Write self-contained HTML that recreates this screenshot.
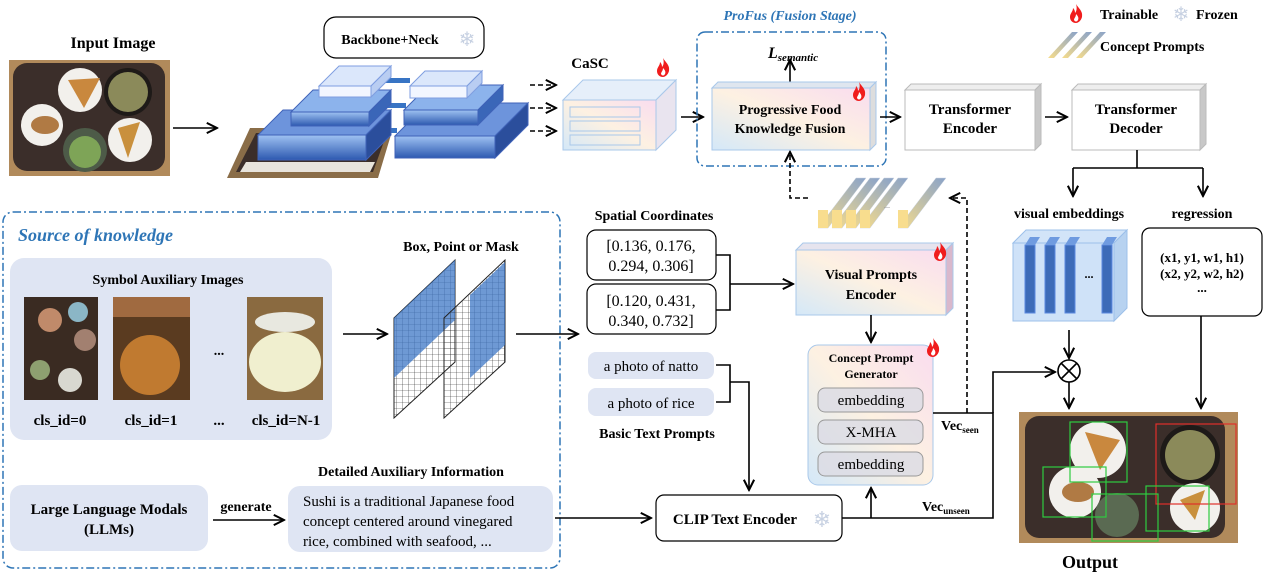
<!DOCTYPE html>
<html><head><meta charset="utf-8"><style>
html,body{margin:0;padding:0;background:#fff}
svg{display:block;font-family:"Liberation Serif",serif}
.b{font-weight:bold}
</style></head><body>
<svg width="1265" height="575" viewBox="0 0 1265 575" xmlns="http://www.w3.org/2000/svg">
<defs>
<marker id="ar" viewBox="0 0 10 10" refX="9" refY="5" markerWidth="8" markerHeight="8" orient="auto-start-reverse"><path d="M1,1 L9,5 L1,9" fill="none" stroke="#000" stroke-width="1.6"/></marker>
<linearGradient id="rb" x1="0" y1="1" x2="1" y2="0"><stop offset="0" stop-color="#d4e8f8"/><stop offset=".5" stop-color="#fdf1e2"/><stop offset="1" stop-color="#f9dcef"/></linearGradient>
<linearGradient id="bl" x1="0" y1="0" x2="0" y2="1"><stop offset="0" stop-color="#9fc2f2"/><stop offset="1" stop-color="#2d59b0"/></linearGradient>
<linearGradient id="cp" x1="0" y1="1" x2="1" y2="0"><stop offset="0" stop-color="#f6dc8c"/><stop offset="1" stop-color="#8aa3c9"/></linearGradient>
<g id="fl"><path d="M6,0 C9,5 13,7 12,13 C11,17 8,19 6,19 C2,19 0,16 0,13 C0,9 3,8 3,4 C5,6 5,8 5,9 C7,7 7,3 6,0Z" fill="#f01d1d"/><path d="M6,10 C8,12 9,14 8,16 C7,18 5,18 4,16 C4,14 6,13 6,10Z" fill="#fff"/></g>
<pattern id="grid" width="6" height="6" patternUnits="userSpaceOnUse"><path d="M6,0 L0,0 0,6" fill="none" stroke="#222" stroke-width=".6"/></pattern>
</defs>

<!-- Input image -->
<text x="113" y="48" class="b" font-size="16" text-anchor="middle">Input Image</text>
<rect x="9" y="60" width="161" height="116" fill="#b18a5b"/>
<rect x="13" y="63" width="152" height="108" rx="14" fill="#3b2e2a"/>
<circle cx="80" cy="90" r="22" fill="#f2f0ec"/><path d="M68,80 L100,78 L84,108Z" fill="#c9883e"/>
<circle cx="128" cy="92" r="24" fill="#1e1a18"/><circle cx="128" cy="92" r="20" fill="#8b8a5a"/>
<circle cx="42" cy="125" r="21" fill="#f2f0ec"/><ellipse cx="45" cy="125" rx="14" ry="9" fill="#b07a44"/>
<circle cx="85" cy="150" r="22" fill="#4d5b48"/><circle cx="85" cy="152" r="16" fill="#7ea457"/>
<circle cx="130" cy="140" r="22" fill="#f2f0ec"/><path d="M118,128 L140,122 L128,158Z" fill="#c9903d"/>
<line x1="173" y1="128" x2="217" y2="128" stroke="#000" stroke-width="1.6" marker-end="url(#ar)"/>

<!-- Backbone -->
<rect x="324" y="17" width="160" height="41" rx="12" fill="#fff" stroke="#000" stroke-width="1.2"/>
<text x="390" y="44" class="b" font-size="14" text-anchor="middle">Backbone+Neck</text>
<text x="467" y="46" font-size="20" fill="#c7d1e2" text-anchor="middle">❄</text>
<path d="M250,128 L393,128 L378,178 L227,178Z" fill="#8a6d48"/><path d="M256,133 L387,133 L373,172 L236,172Z" fill="#3b2e2a"/>
<path d="M246,162 L375,162 L370,172 L240,172Z" fill="#e8e4dc"/>
<!-- blue connectors -->
<rect x="370" y="78" width="40" height="5" fill="#3874c4"/><rect x="370" y="103" width="36" height="5" fill="#3874c4"/><rect x="375" y="128" width="22" height="5" fill="#3874c4"/>
<!-- left slabs -->
<path d="M258,135 L366,135 L391,110 L283,110Z" fill="#6d94dc" stroke="#3f62b8"/><rect x="258" y="135" width="108" height="25" fill="url(#bl)" stroke="#3f62b8"/><path d="M366,135 L391,110 L391,135 L366,160Z" fill="#2b4e9c" stroke="#3f62b8"/>
<path d="M291,112 L369,112 L391,90 L313,90Z" fill="#8cb3ec" stroke="#3f62b8"/><rect x="291" y="112" width="78" height="14" fill="url(#bl)" stroke="#3f62b8"/><path d="M369,112 L391,90 L391,104 L369,126Z" fill="#3a66b8" stroke="#3f62b8"/>
<path d="M319,86 L371,86 L391,66 L339,66Z" fill="#dbe7fb" stroke="#7f9ee0"/><rect x="319" y="86" width="52" height="11" fill="#f2f6ff" stroke="#7f9ee0"/><path d="M371,86 L391,66 L391,77 L371,97Z" fill="#b9cdf2" stroke="#7f9ee0"/>
<!-- right slabs -->
<path d="M395,136 L495,136 L528,103 L428,103Z" fill="#6d94dc" stroke="#3f62b8"/><rect x="395" y="136" width="100" height="22" fill="url(#bl)" stroke="#3f62b8"/><path d="M495,136 L528,103 L528,125 L495,158Z" fill="#2b4e9c" stroke="#3f62b8"/>
<path d="M404,110 L478,110 L503,85 L429,85Z" fill="#8cb3ec" stroke="#3f62b8"/><rect x="404" y="110" width="74" height="15" fill="url(#bl)" stroke="#3f62b8"/><path d="M478,110 L503,85 L503,100 L478,125Z" fill="#3a66b8" stroke="#3f62b8"/>
<path d="M410,86 L467,86 L482,71 L425,71Z" fill="#dbe7fb" stroke="#7f9ee0"/><rect x="410" y="86" width="57" height="12" fill="#f2f6ff" stroke="#7f9ee0"/><path d="M467,86 L482,71 L482,83 L467,98Z" fill="#b9cdf2" stroke="#7f9ee0"/>
<g stroke="#000" stroke-width="1.6" stroke-dasharray="5,3"><line x1="530" y1="85" x2="556" y2="85" marker-end="url(#ar)"/><line x1="530" y1="108" x2="556" y2="108" marker-end="url(#ar)"/><line x1="530" y1="131" x2="556" y2="131" marker-end="url(#ar)"/></g>

<!-- CaSC -->
<text x="590" y="68" class="b" font-size="15" text-anchor="middle">CaSC</text>
<use href="#fl" x="657" y="58"/>
<path d="M563,100 L583,80 L676,80 L656,100Z" fill="#e6effa" stroke="#a9c8ea"/>
<rect x="563" y="100" width="93" height="50" fill="url(#rb)" stroke="#a9c8ea"/>
<path d="M656,100 L676,80 L676,130 L656,150Z" fill="#e9e4ef" stroke="#a9c8ea"/>
<g fill="none" stroke="#a9c8ea"><rect x="570" y="107" width="70" height="10"/><rect x="570" y="121" width="70" height="10"/><rect x="570" y="135" width="70" height="10"/></g>
<line x1="681" y1="117" x2="703" y2="117" stroke="#000" stroke-width="1.6" marker-end="url(#ar)"/>

<!-- ProFus -->
<text x="790" y="20" class="b" font-style="italic" font-size="14" fill="#2e75b6" text-anchor="middle">ProFus (Fusion Stage)</text>
<rect x="697" y="32" width="189" height="134" rx="8" fill="none" stroke="#2e75b6" stroke-width="1.5" stroke-dasharray="8,3,2,3"/>
<text x="768" y="58" class="b" font-style="italic" font-size="16">L<tspan font-size="11" dy="3">semantic</tspan></text>
<line x1="790" y1="86" x2="790" y2="60" stroke="#000" stroke-width="1.6" marker-end="url(#ar)"/>
<path d="M712,88 L718,82 L876,82 L870,88Z" fill="#dfe6ef" stroke="#a9c8ea"/>
<rect x="712" y="88" width="158" height="62" fill="url(#rb)" stroke="#a9c8ea"/>
<path d="M870,88 L876,82 L876,144 L870,150Z" fill="#ddd" stroke="#a9c8ea"/>
<use href="#fl" x="853" y="82"/>
<text x="790" y="114" class="b" font-size="14" text-anchor="middle">Progressive Food</text>
<text x="790" y="133" class="b" font-size="14" text-anchor="middle">Knowledge Fusion</text>
<line x1="880" y1="117" x2="900" y2="117" stroke="#000" stroke-width="1.6" marker-end="url(#ar)"/>

<!-- Transformers -->
<path d="M905,90 L911,84 L1041,84 L1035,90Z" fill="#eee" stroke="#bbb"/><rect x="905" y="90" width="130" height="60" fill="#fff" stroke="#bbb"/><path d="M1035,90 L1041,84 L1041,144 L1035,150Z" fill="#c8c8c8" stroke="#bbb"/>
<text x="970" y="114" class="b" font-size="15" text-anchor="middle">Transformer</text><text x="970" y="133" class="b" font-size="15" text-anchor="middle">Encoder</text>
<line x1="1045" y1="117" x2="1067" y2="117" stroke="#000" stroke-width="1.6" marker-end="url(#ar)"/>
<path d="M1072,90 L1078,84 L1206,84 L1200,90Z" fill="#eee" stroke="#bbb"/><rect x="1072" y="90" width="128" height="60" fill="#fff" stroke="#bbb"/><path d="M1200,90 L1206,84 L1206,144 L1200,150Z" fill="#c8c8c8" stroke="#bbb"/>
<text x="1136" y="114" class="b" font-size="15" text-anchor="middle">Transformer</text><text x="1136" y="133" class="b" font-size="15" text-anchor="middle">Decoder</text>
<g stroke="#000" stroke-width="1.6" fill="none"><path d="M1137,150 V168"/><path d="M1073,168 H1203"/><line x1="1073" y1="168" x2="1073" y2="196" marker-end="url(#ar)"/><line x1="1203" y1="168" x2="1203" y2="196" marker-end="url(#ar)"/></g>

<!-- Legend -->
<use href="#fl" x="1070" y="4"/>
<text x="1100" y="19" class="b" font-size="14">Trainable</text>
<text x="1181" y="21" font-size="20" fill="#c7d1e2" text-anchor="middle">❄</text>
<text x="1196" y="19" class="b" font-size="14">Frozen</text>
<g fill="url(#cp)"><path d="M1048,58 L1072,32 L1078,32 L1054,58Z"/><path d="M1062,58 L1086,32 L1092,32 L1068,58Z"/><path d="M1076,58 L1100,32 L1106,32 L1082,58Z"/></g>
<text x="1100" y="51" class="b" font-size="14">Concept Prompts</text>

<!-- middle concept prompts -->
<g fill="url(#cp)" stroke="#c9d2e0" stroke-width=".5">
<path d="M818,228 L856,178 L866,178 L828,228Z"/><path d="M832,228 L870,178 L880,178 L842,228Z"/><path d="M846,228 L884,178 L894,178 L856,228Z"/><path d="M860,228 L898,178 L908,178 L870,228Z"/><path d="M898,228 L936,178 L946,178 L908,228Z"/></g>
<g fill="#f8dd8e"><rect x="818" y="210" width="10" height="18"/><rect x="832" y="210" width="10" height="18"/><rect x="846" y="210" width="10" height="18"/><rect x="860" y="210" width="10" height="18"/><rect x="898" y="210" width="10" height="18"/></g>
<text x="884" y="208" font-size="8" fill="#888">...</text>
<g stroke="#000" stroke-width="1.6" fill="none" stroke-dasharray="5,3">
<path d="M808,198 H790 V152" marker-end="url(#ar)"/>
<path d="M967,413 V198 H950" marker-end="url(#ar)"/></g>

<!-- Source of knowledge -->
<rect x="3" y="212" width="557" height="356" rx="10" fill="none" stroke="#2e75b6" stroke-width="1.5" stroke-dasharray="8,3,2,3"/>
<text x="18" y="241" class="b" font-style="italic" font-size="18" fill="#2e75b6">Source of knowledge</text>
<rect x="10" y="258" width="322" height="182" rx="14" fill="#dfe5f3"/>
<text x="168" y="284" class="b" font-size="14" text-anchor="middle">Symbol Auxiliary Images</text>
<rect x="24" y="297" width="74" height="103" fill="#3a2b22"/><circle cx="50" cy="320" r="12" fill="#c08a6a"/><circle cx="78" cy="312" r="10" fill="#8bb6c6"/><circle cx="85" cy="340" r="11" fill="#a28070"/><circle cx="40" cy="370" r="10" fill="#8ea070"/><circle cx="70" cy="380" r="12" fill="#d8d8d0"/>
<rect x="113" y="297" width="77" height="103" fill="#5a3b20"/><circle cx="150" cy="365" r="30" fill="#c07a30"/><rect x="113" y="297" width="77" height="20" fill="#a06a40"/>
<rect x="247" y="297" width="76" height="103" fill="#8a6a40"/><ellipse cx="285" cy="362" rx="36" ry="30" fill="#f0efcf"/><ellipse cx="285" cy="322" rx="30" ry="10" fill="#e8e8e0"/>
<text x="219" y="355" class="b" font-size="14" text-anchor="middle">...</text>
<text x="60" y="425" class="b" font-size="15" text-anchor="middle">cls_id=0</text>
<text x="151" y="425" class="b" font-size="15" text-anchor="middle">cls_id=1</text>
<text x="219" y="425" class="b" font-size="15" text-anchor="middle">...</text>
<text x="286" y="425" class="b" font-size="15" text-anchor="middle">cls_id=N-1</text>
<line x1="343" y1="334" x2="387" y2="334" stroke="#000" stroke-width="1.6" marker-end="url(#ar)"/>
<text x="461" y="251" class="b" font-size="14" text-anchor="middle">Box, Point or Mask</text>
<path d="M394,318 L455,260 L455,362 L394,418Z" fill="url(#grid)" stroke="#222"/>
<path d="M394,318 L455,260 L455,320 L394,378Z" fill="#3d77c6" opacity=".75"/>
<path d="M444,318 L505,260 L505,362 L444,418Z" fill="url(#grid)" stroke="#222"/>
<path d="M470,295 L505,262 L505,345 L470,378Z" fill="#3d77c6" opacity=".75"/>
<line x1="516" y1="334" x2="578" y2="334" stroke="#000" stroke-width="1.6" marker-end="url(#ar)"/>

<!-- Spatial coords -->
<text x="654" y="220" class="b" font-size="14" text-anchor="middle">Spatial Coordinates</text>
<rect x="587" y="230" width="129" height="50" rx="9" fill="#fff" stroke="#000" stroke-width="1.2"/>
<rect x="587" y="284" width="129" height="50" rx="9" fill="#fff" stroke="#000" stroke-width="1.2"/>
<text x="651" y="251" font-size="16" text-anchor="middle">[0.136, 0.176,</text><text x="651" y="271" font-size="16" text-anchor="middle">0.294, 0.306]</text>
<text x="651" y="306" font-size="16" text-anchor="middle">[0.120, 0.431,</text><text x="651" y="326" font-size="16" text-anchor="middle">0.340, 0.732]</text>
<g stroke="#000" stroke-width="1.6" fill="none"><path d="M716,255 H730 V310 H716"/><line x1="730" y1="284" x2="793" y2="284" marker-end="url(#ar)"/></g>

<!-- VPE -->
<path d="M796,250 L803,243 L953,243 L946,250Z" fill="#e6e4ee" stroke="#a9c8ea"/>
<rect x="796" y="250" width="150" height="65" fill="url(#rb)" stroke="#a9c8ea"/>
<path d="M946,250 L953,243 L953,308 L946,315Z" fill="#d9b8cc" stroke="#a9c8ea"/>
<use href="#fl" x="934" y="242"/>
<text x="871" y="279" class="b" font-size="14" text-anchor="middle">Visual Prompts</text>
<text x="871" y="299" class="b" font-size="14" text-anchor="middle">Encoder</text>
<line x1="871" y1="315" x2="871" y2="342" stroke="#000" stroke-width="1.6" marker-end="url(#ar)"/>

<!-- CPG -->
<rect x="808" y="345" width="125" height="140" rx="10" fill="url(#rb)" stroke="#a9c8ea"/>
<use href="#fl" x="927" y="338"/>
<text x="871" y="362" class="b" font-size="12" text-anchor="middle">Concept Prompt</text>
<text x="871" y="378" class="b" font-size="12" text-anchor="middle">Generator</text>
<g fill="#dcdce4" fill-opacity=".85" stroke="#999"><rect x="818" y="388" width="105" height="24" rx="7"/><rect x="818" y="420" width="105" height="24" rx="7"/><rect x="818" y="452" width="105" height="24" rx="7"/></g>
<text x="871" y="405" font-size="15" text-anchor="middle">embedding</text>
<text x="871" y="437" font-size="15" text-anchor="middle">X-MHA</text>
<text x="871" y="469" font-size="15" text-anchor="middle">embedding</text>

<!-- text prompts -->
<rect x="588" y="352" width="126" height="27" rx="8" fill="#dfe5f3"/><rect x="588" y="388" width="126" height="28" rx="8" fill="#dfe5f3"/>
<text x="651" y="371" font-size="15" text-anchor="middle">a photo of natto</text>
<text x="651" y="408" font-size="15" text-anchor="middle">a photo of rice</text>
<text x="657" y="438" class="b" font-size="14" text-anchor="middle">Basic Text Prompts</text>
<g stroke="#000" stroke-width="1.6" fill="none"><path d="M716,365 H730 V402 H716"/><path d="M730,382 H749 V490" marker-end="url(#ar)"/></g>

<!-- CLIP -->
<rect x="656" y="495" width="186" height="46" rx="8" fill="#fff" stroke="#000" stroke-width="1.2"/>
<text x="735" y="524" class="b" font-size="15" text-anchor="middle">CLIP Text Encoder</text>
<text x="822" y="527" font-size="22" fill="#c7d1e2" text-anchor="middle">❄</text>
<g stroke="#000" stroke-width="1.6" fill="none">
<path d="M842,518 H993 V413 H933"/>
<line x1="871" y1="518" x2="871" y2="488" marker-end="url(#ar)"/>
<path d="M993,413 V372 H1055" marker-end="url(#ar)"/></g>
<text x="941" y="430" class="b" font-size="14">Vec<tspan font-size="9" dy="3">seen</tspan></text>
<text x="922" y="511" class="b" font-size="14">Vec<tspan font-size="9" dy="3">unseen</tspan></text>

<!-- LLM -->
<rect x="10" y="485" width="198" height="66" rx="12" fill="#dfe5f3"/>
<text x="109" y="514" class="b" font-size="15" text-anchor="middle">Large Language Modals</text>
<text x="109" y="534" class="b" font-size="15" text-anchor="middle">(LLMs)</text>
<text x="246" y="511" class="b" font-size="14" text-anchor="middle">generate</text>
<line x1="213" y1="520" x2="284" y2="520" stroke="#000" stroke-width="1.6" marker-end="url(#ar)"/>
<text x="411" y="476" class="b" font-size="14" text-anchor="middle">Detailed Auxiliary Information</text>
<rect x="288" y="486" width="265" height="66" rx="12" fill="#dfe5f3"/>
<text x="303" y="506" font-size="15">Sushi is a traditional Japanese food</text>
<text x="303" y="526" font-size="15">concept centered around vinegared</text>
<text x="303" y="546" font-size="15">rice, combined with seafood, ...</text>
<line x1="555" y1="518" x2="651" y2="518" stroke="#000" stroke-width="1.6" marker-end="url(#ar)"/>

<!-- right side -->
<text x="1069" y="218" class="b" font-size="14" text-anchor="middle">visual embeddings</text>
<text x="1202" y="218" class="b" font-size="14" text-anchor="middle">regression</text>
<path d="M1013,243 L1026,230 L1127,230 L1114,243Z" fill="#d2e4f8" stroke="#9cc0ea"/>
<rect x="1013" y="243" width="101" height="78" fill="#cfe2f8" stroke="#9cc0ea"/>
<path d="M1114,243 L1127,230 L1127,308 L1114,321Z" fill="#b7d2f0" stroke="#9cc0ea"/>
<g fill="#3d6bb8" stroke="#5b88e0"><rect x="1025" y="245" width="10" height="68"/><rect x="1045" y="245" width="10" height="68"/><rect x="1065" y="245" width="10" height="68"/><rect x="1102" y="245" width="10" height="68"/></g>
<g fill="#6f9be0"><path d="M1025,245 L1030,237 L1040,237 L1035,245Z"/><path d="M1045,245 L1050,237 L1060,237 L1055,245Z"/><path d="M1065,245 L1070,237 L1080,237 L1075,245Z"/><path d="M1102,245 L1107,237 L1117,237 L1112,245Z"/></g>
<text x="1089" y="278" class="b" font-size="12" text-anchor="middle">...</text>
<rect x="1142" y="228" width="120" height="88" rx="8" fill="#fff" stroke="#000" stroke-width="1.2"/>
<text x="1202" y="262" class="b" font-size="13" text-anchor="middle">(x1, y1, w1, h1)</text>
<text x="1202" y="278" class="b" font-size="13" text-anchor="middle">(x2, y2, w2, h2)</text>
<text x="1202" y="292" class="b" font-size="13" text-anchor="middle">...</text>
<g stroke="#000" stroke-width="1.6" fill="none">
<line x1="1069" y1="330" x2="1069" y2="358" marker-end="url(#ar)"/>
<circle cx="1069" cy="371" r="11" fill="#fff"/><path d="M1061,363 L1077,379 M1077,363 L1061,379"/>
<line x1="1069" y1="382" x2="1069" y2="408" marker-end="url(#ar)"/>
<line x1="1201" y1="316" x2="1201" y2="408" marker-end="url(#ar)"/></g>
<rect x="1019" y="412" width="219" height="131" fill="#b18a5b"/>
<rect x="1025" y="416" width="200" height="122" rx="14" fill="#3b2e2a"/>
<circle cx="1098" cy="450" r="28" fill="#f2f0ec"/><path d="M1085,432 L1120,440 L1100,470Z" fill="#c9883e"/>
<circle cx="1190" cy="455" r="30" fill="#1e1a18"/><circle cx="1190" cy="455" r="25" fill="#8b8a5a"/>
<circle cx="1075" cy="492" r="26" fill="#f2f0ec"/><ellipse cx="1078" cy="492" rx="16" ry="10" fill="#b07a44"/>
<circle cx="1117" cy="515" r="22" fill="#5a6a52"/><circle cx="1195" cy="508" r="25" fill="#f2f0ec"/><path d="M1180,500 L1205,490 L1195,520Z" fill="#c9903d"/>
<g fill="none" stroke-width="1.2"><rect x="1070" y="422" width="57" height="60" stroke="#2ecc40"/><rect x="1156" y="424" width="80" height="80" stroke="#e0302a"/><rect x="1043" y="467" width="63" height="50" stroke="#2ecc40"/><rect x="1092" y="494" width="66" height="47" stroke="#2ecc40"/><rect x="1146" y="486" width="63" height="45" stroke="#2ecc40"/></g>
<text x="1090" y="568" class="b" font-size="18" text-anchor="middle">Output</text>
</svg>
</body></html>
